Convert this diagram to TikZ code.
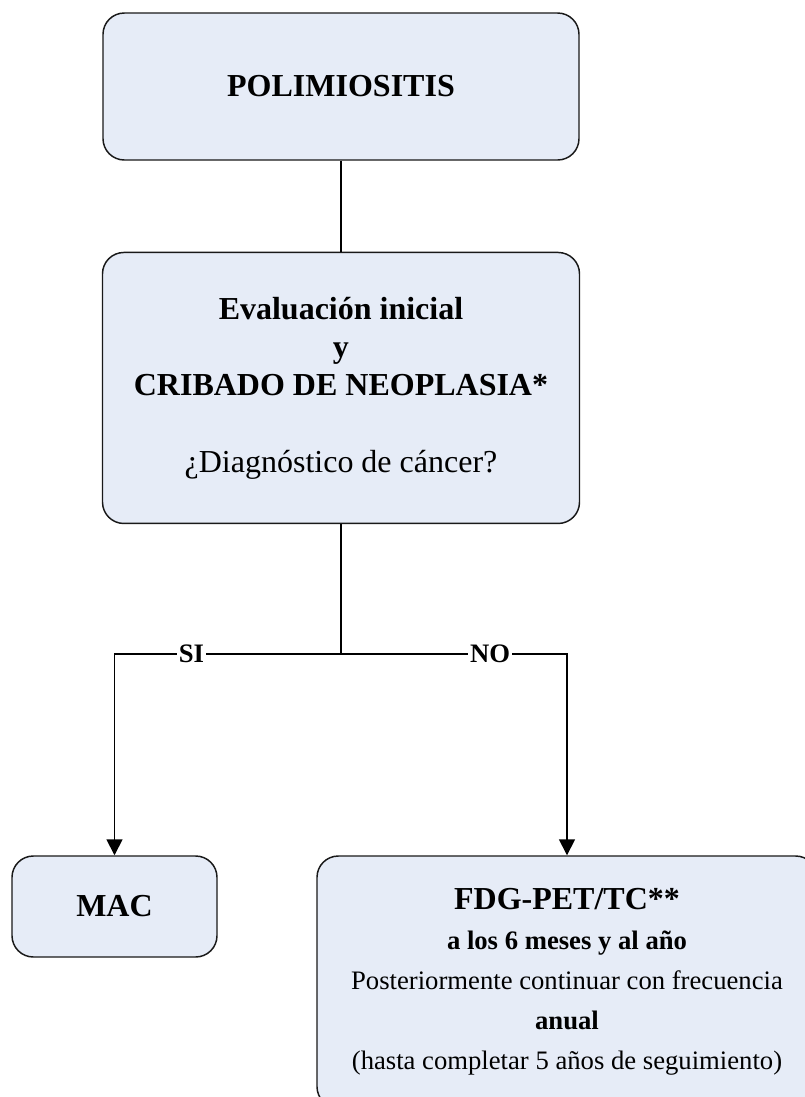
\documentclass[tikz,border=0pt]{standalone}
\usepackage{fontspec}
\setmainfont{Liberation Serif}
\usetikzlibrary{positioning,arrows.meta}
\definecolor{boxfill}{RGB}{230,236,247}

\begin{document}
\begin{tikzpicture}[x=0.75pt,y=-0.75pt,node distance=68.25pt]
  \tikzset{box/.style={draw=black!90,line width=1.1pt,fill=boxfill,rounded corners=16pt,align=center,font=\bfseries\fontsize{24}{28.5}\selectfont},
    answer/.style={fill=white,inner sep=1.5pt,font=\bfseries\fontsize{20}{24}\selectfont}}%white box cuts the line
  \useasboundingbox (0,0) rectangle (805,1097);
  \clip (0,0) rectangle (805,1097);
  \node (polim) [box,minimum width=357pt,minimum height=110.25pt] at (341,86.5) {POLIMIOSITIS};
  \node (eval) [box,minimum width=357.75pt,minimum height=203.25pt,below=of polim] {Evaluación inicial\\ y\\ CRIBADO DE NEOPLASIA*\\[29.25pt] {\mdseries ¿Diagnóstico de cáncer?}};
  \path (eval.south) ++(0,130) coordinate (split);
  \node (mac) [box,minimum width=153.75pt,minimum height=75.75pt] at (114.5,906.5) {MAC};
  \node (fdg) [box,minimum width=375pt,minimum height=189pt,font=\mdseries\fontsize{20}{30}\selectfont] at (567,982) {{\bfseries\fontsize{24}{30}\selectfont FDG-PET/TC**}\\ \textbf{a los 6 meses y al año}\\ Posteriormente continuar con frecuencia\\ \textbf{anual}\\ (hasta completar 5 años de seguimiento)};
  \draw[line width=1.3pt] (polim) -- (eval);
  \draw[line width=1.3pt] (eval) -- (split);
  \draw[line width=1.3pt,-{Triangle[width=12pt,length=12pt]}] (split) -| node[answer,pos=0.33] {SI} (mac);
  \draw[line width=1.3pt,-{Triangle[width=12pt,length=12pt]}] (split) -| node[answer,pos=0.33] {NO} (fdg);
\end{tikzpicture}
\end{document}
